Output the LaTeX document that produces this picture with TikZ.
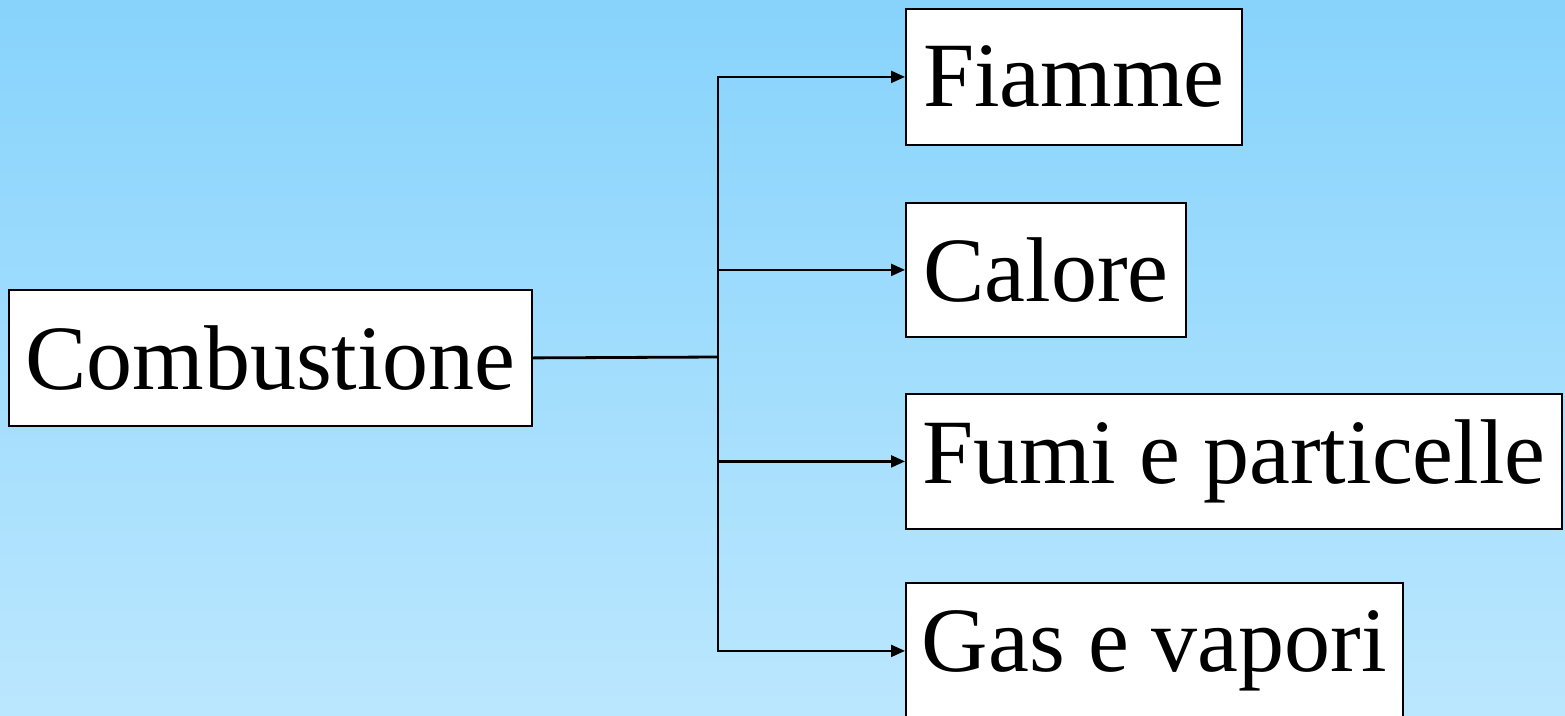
\documentclass[tikz,border=0pt]{standalone}
\usepackage{fontspec}
\setmainfont{Liberation Serif}
\usetikzlibrary{arrows.meta}
\definecolor{skytop}{RGB}{135,211,252}
\definecolor{skybottom}{RGB}{187,231,254}
\tikzset{
  box/.style={draw=black, line width=1.8pt, fill=white, inner sep=0pt,
    anchor=north west, font=\fontsize{92}{92}\selectfont},
  link/.style={line width=2.2pt, draw=black},
  branch/.style={link, -{Triangle[length=14pt,width=12pt]}}
}
\begin{document}
\begin{tikzpicture}[x=1pt,y=-1pt]
  \useasboundingbox (0,0) rectangle (1565,715);
  \shade[top color=skytop, bottom color=skybottom] (0,0) rectangle (1565,715);

  \begin{scope}
    \clip (0,0) rectangle (1565,715);
    \node[box, minimum width=523pt, minimum height=136pt] (comb) at (8,289) {Combustione};
    \node[box, minimum width=336pt, minimum height=136pt] (fiamme) at (905,8) {Fiamme};
    \node[box, minimum width=280pt, minimum height=134pt] (calore) at (905,202) {Calore};
    \node[box, minimum width=656pt, minimum height=135pt] (fumi) at (905,393) {Fumi e particelle};
    \node[box, minimum width=497pt, minimum height=136pt] (gas) at (905,582) {Gas e vapori};
  \end{scope}

  \coordinate (junction) at (718,357);
  \draw[link, line width=2.8pt] (comb.east) -- (junction);
  \draw[branch] (junction) |- (fiamme.west);
  \draw[branch] (junction) |- (calore.west);
  \draw[branch] (junction) |- (fumi.west);
  \draw[branch] (junction) |- (gas.west);
\end{tikzpicture}
\end{document}
